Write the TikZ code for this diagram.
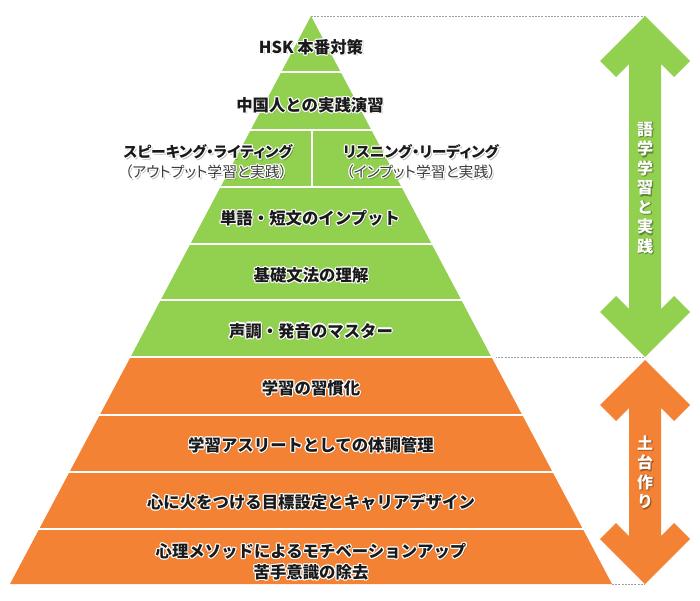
\documentclass[tikz,border=0pt]{standalone}
\usepackage{fontspec}
\setmainfont{Noto Sans CJK JP}
\newfontfamily\jpprop{Noto Sans CJK JP}[RawFeature=+palt]
\definecolor{pgreen}{RGB}{146,208,80}
\definecolor{porange}{RGB}{243,130,52}
\definecolor{ptext}{RGB}{26,26,26}
\definecolor{psub}{RGB}{60,60,60}
\definecolor{pguide}{RGB}{160,160,160}
\tikzset{
  sep/.style={white, line width=2.2pt},
  guide/.style={pguide, line width=0.8pt, dash pattern=on 2pt off 1.2pt},
  txt/.style={inner sep=0pt, align=center, text=ptext, font=\fontsize{16.4}{21}\selectfont\bfseries},
  midtxt/.style={inner sep=0pt, align=center, text=ptext, font=\jpprop\fontsize{14.8}{20}\selectfont\bfseries},
  subtxt/.style={inner sep=0pt, align=center, text=psub, font=\jpprop\fontsize{14.8}{20}\selectfont},
  vtxt/.style={inner sep=0pt, align=center, text=white, font=\fontsize{16}{19.5}\selectfont\bfseries},
}
% #1 name, #2 style, #3 position, #4 text
\newcommand\glowtext[4]{%
  \node[#2, text=black, opacity=.25, name=#1-s] at ([shift={(1.6,1.6)}]#3) {#4};
  \foreach \dx/\dy [count=\i] in {1.2/0,-1.2/0,0/1.2,0/-1.2,.85/.85,-.85/.85,.85/-.85,-.85/-.85}{
    \node[#2, text=white, name=#1-g\i] at ([shift={(\dx,\dy)}]#3) {#4};
  }
  \node[#2, name=#1] at (#3) {#4};
}
% #1 name, #2 shadow colour, #3 position, #4 text
\newcommand\arrowtext[4]{%
  \foreach \dx/\dy [count=\i] in {1.2/1.2,0.6/1.6,1.6/0.6}{
    \node[vtxt, text=#2, opacity=.45, name=#1-s\i] at ([shift={(\dx,\dy)}]#3) {#4};
  }
  \node[vtxt, name=#1] at (#3) {#4};
}
% double arrow: #1 colour, #2 top y, #3 bottom y, centre x = 645
\newcommand\dblarrow[3]{%
  \fill[#1] (645,#2) -- ++(45,45) -- ++(-16,16) -- (661,#2+48)
    -- (661,#3-48) -- (674,#3-61) -- (690,#3-45) -- (645,#3)
    -- (600,#3-45) -- (616,#3-61) -- (629,#3-48)
    -- (629,#2+48) -- (616,#2+61) -- (600,#2+45) -- cycle;
}
\begin{document}
\begin{tikzpicture}[x=1pt,y=-1pt]
\useasboundingbox (0,0) rectangle (700,600);
\fill[white] (0,0) rectangle (700,600);

% guide lines
\coordinate (apex) at (311,16);
\coordinate (mid) at (491.7,357.5);
\coordinate (base) at (612,584);
\coordinate (gtop) at (645,16);
\coordinate (gbot) at (645,357.5);
\coordinate (obot) at (645,584);
\draw[guide] (apex) -- (gtop);
\draw[guide] (mid) -- (gbot);
\draw[guide] (base) -- (obot);

% pyramid
\fill[pgreen] (apex) -- (mid) -- (130.3,357.5) -- cycle;
\fill[porange] (130.3,357.5) -- (mid) -- (base) -- (10,584) -- cycle;
\foreach \yy in {72,130,187,244,300,357,415,472,529}{
  \pgfmathsetmacro\hw{0.53*(\yy-16)+4}
  \draw[sep] (311-\hw,\yy) -- (311+\hw,\yy);
}
\draw[white, line width=1.6pt] (312,130) -- (312,187);

% layer texts
\glowtext{l1}{txt}{311,47}{HSK 本番対策}
\glowtext{l2}{txt}{310,105}{中国人との実践演習}
\glowtext{l3a}{midtxt}{208,152}{スピーキング・ライティング}
\glowtext{l3a2}{subtxt}{206,172}{（アウトプット学習と実践）}
\glowtext{l3b}{midtxt}{421,152}{リスニング・リーディング}
\glowtext{l3b2}{subtxt}{421,172}{（インプット学習と実践）}
\glowtext{l4}{txt}{310,218}{単語・短文のインプット}
\glowtext{l5}{txt}{311,275}{基礎文法の理解}
\glowtext{l6}{txt}{311,331}{声調・発音のマスター}
\glowtext{l7}{txt}{311,388}{学習の習慣化}
\glowtext{l8}{txt}{311,445}{学習アスリートとしての体調管理}
\glowtext{l9}{txt}{311,502}{心に火をつける目標設定とキャリアデザイン}
\glowtext{l10}{txt}{311,561.5}{心理メソッドによるモチベーションアップ\\苦手意識の除去}

% side arrows
\dblarrow{pgreen}{16}{357}
\dblarrow{porange}{360}{584}
\arrowtext{ga}{pgreen!55!black}{645,188}{語\\学\\学\\習\\と\\実\\践}
\arrowtext{oa}{porange!55!black}{645,472}{土\\台\\作\\り}
\end{tikzpicture}
\end{document}
